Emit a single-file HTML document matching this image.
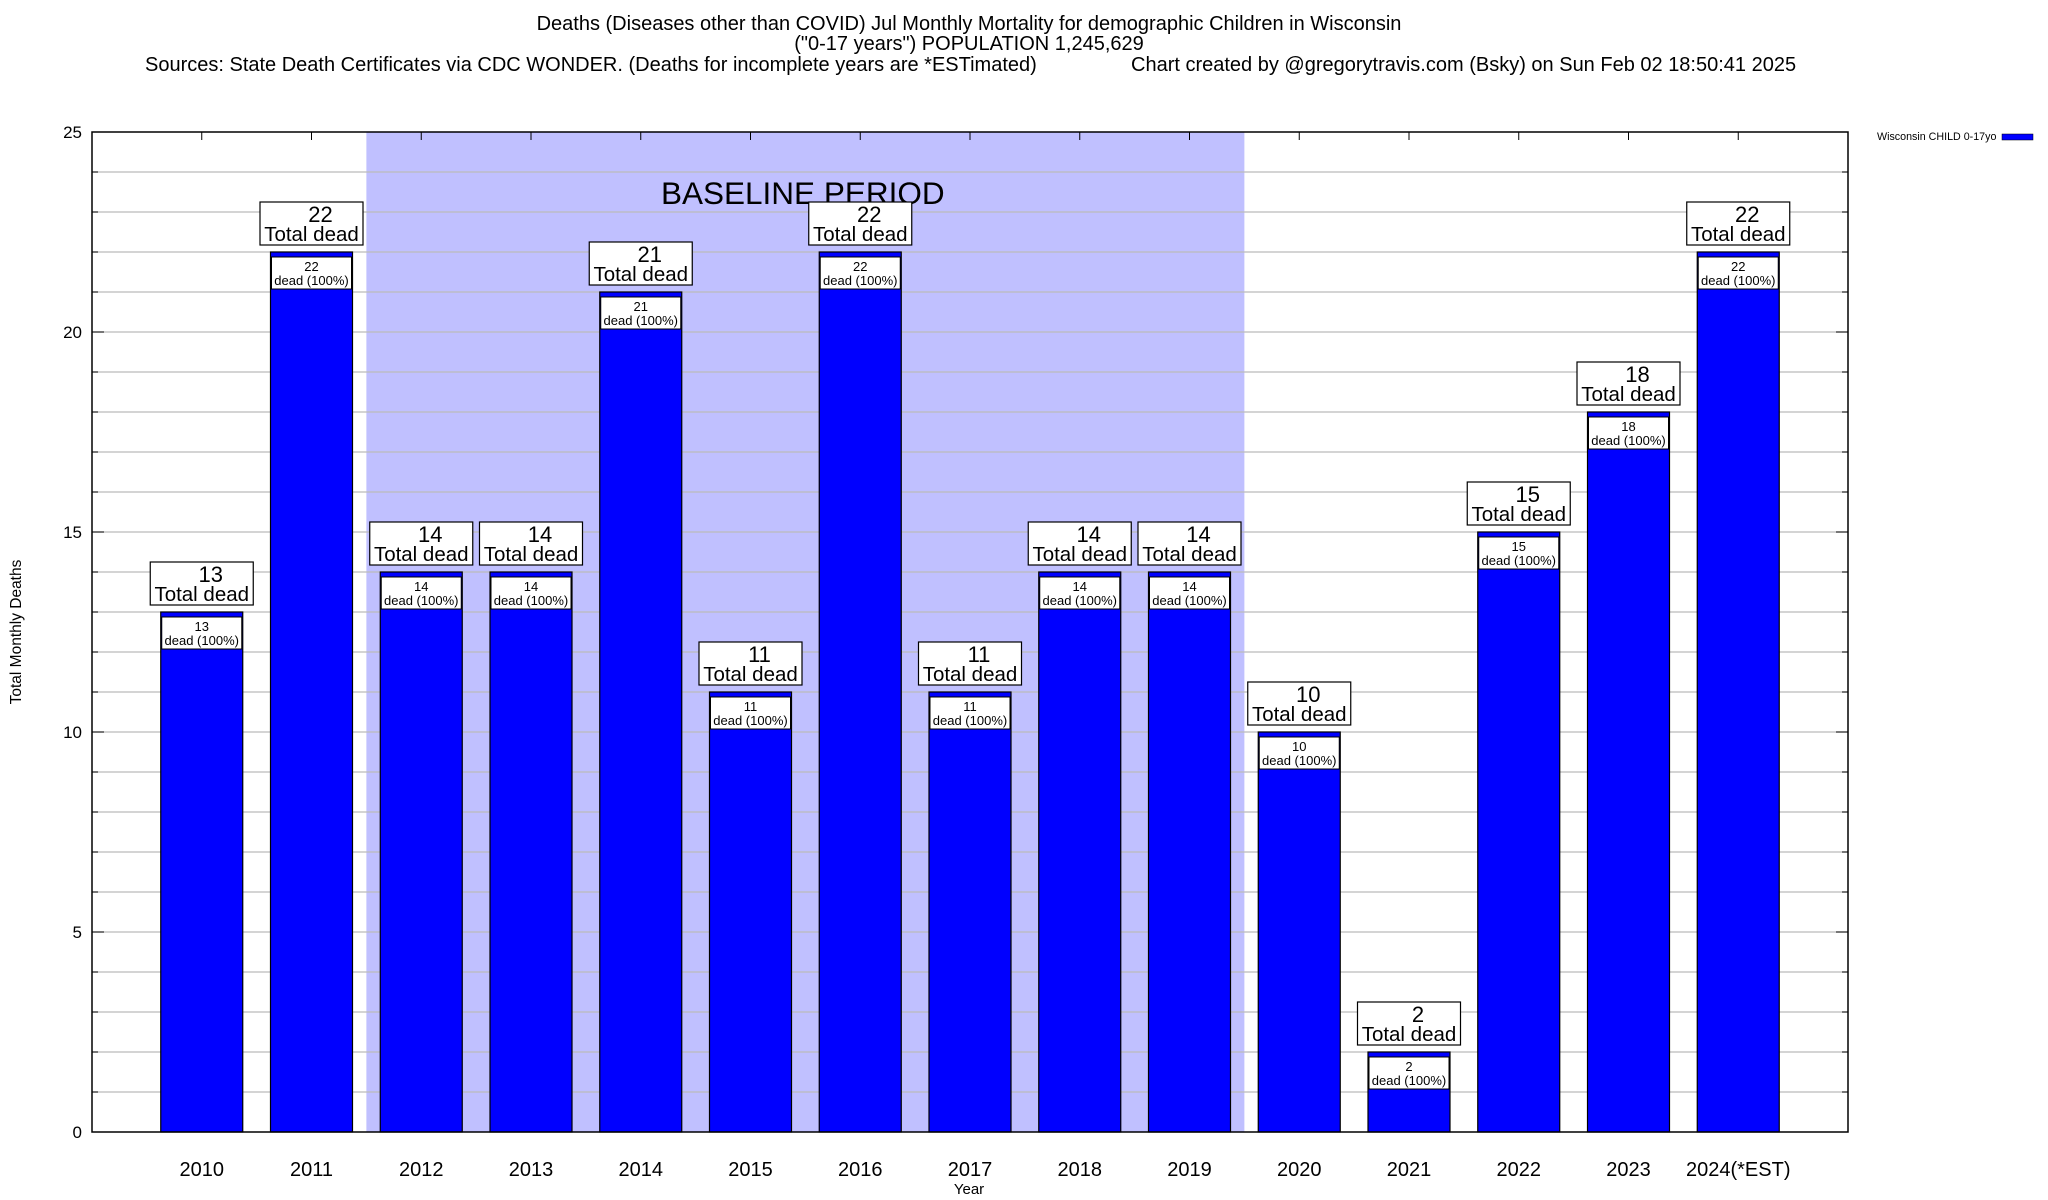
<!DOCTYPE html>
<html><head><meta charset="utf-8">
<style>
html,body{margin:0;padding:0;background:#fff;}
svg{display:block;font-family:"Liberation Sans",sans-serif;}
</style></head>
<body>
<svg id="chart" width="2048" height="1200" xmlns="http://www.w3.org/2000/svg">
<text x="969" y="30" font-size="20" text-anchor="middle">Deaths (Diseases other than COVID) Jul Monthly Mortality for demographic Children in Wisconsin</text>
<text x="969" y="50" font-size="20" text-anchor="middle">("0-17 years") POPULATION 1,245,629</text>
<text x="145" y="71" font-size="20">Sources: State Death Certificates via CDC WONDER. (Deaths for incomplete years are *ESTimated)</text>
<text x="1131" y="71" font-size="20">Chart created by @gregorytravis.com (Bsky) on Sun Feb 02 18:50:41 2025</text>
<g id="plot"></g>
<text x="21" y="632" font-size="15.5" text-anchor="middle" transform="rotate(-90 21 632)">Total Monthly Deaths</text>
<text x="969" y="1194" font-size="15" text-anchor="middle">Year</text>
<g>
<text x="1877" y="140" font-size="10.7">Wisconsin CHILD 0-17yo</text>
<rect x="2002" y="134" width="31" height="6" fill="#0000ff" stroke="#000" stroke-width="0.5"/>
</g>
</svg>
<script>
const categories = ["2010","2011","2012","2013","2014","2015","2016","2017","2018","2019","2020","2021","2022","2023","2024(*EST)"];
const values = [13,22,14,14,21,11,22,11,14,14,10,2,15,18,22];
const yTicks = [0,5,10,15,20,25];
const baselineStart = 2;
const baselineEnd = 9;

const L=92,R=1848,T=132,B=1132,YMAX=25;
const slot=(R-L)/(categories.length+1);
function xs(i){return L+(i+1)*slot;}
function ys(v){return B-(v/YMAX)*(B-T);}
const NS="http://www.w3.org/2000/svg";
const g=document.getElementById('plot');
function el(tag,attrs,txt){const e=document.createElementNS(NS,tag);for(const k in attrs)e.setAttribute(k,attrs[k]);if(txt!==undefined)e.textContent=txt;g.appendChild(e);return e;}

let e;
e=el('rect',{x:xs(baselineStart-0.5),y:T,width:xs(baselineEnd+0.5)-xs(baselineStart-0.5),height:B-T,fill:'#c0c0ff'});


for(let v=1;v<YMAX;v++){
  e=el('line',{x1:L,x2:R,y1:ys(v),y2:ys(v),stroke:'#bbb','stroke-width':1.2});
  
  
  e=el('line',{x1:L,x2:L+(v%5==0?12:6),y1:ys(v),y2:ys(v),stroke:'#000','stroke-width':1});
  
  
  e=el('line',{x1:R,x2:R-(v%5==0?12:6),y1:ys(v),y2:ys(v),stroke:'#000','stroke-width':1});
  
  
}
yTicks.forEach(t=>{
  e=el('text',{x:82,y:ys(t)+6,'font-size':17,'text-anchor':'end'},String(t));
  
  
});
e=el('text',{x:661,y:204,'font-size':31.5},'BASELINE PERIOD');


categories.forEach((c,i)=>{
  const cx=xs(i),v=values[i],top=ys(v),w=82;
  e=el('line',{x1:cx,x2:cx,y1:T,y2:T+8,stroke:'#000','stroke-width':1});
  
  
  e=el('rect',{x:cx-w/2,y:top,width:w,height:B-top,fill:'#0000ff',stroke:'#000','stroke-width':1.2});
  
  
  e=el('rect',{x:cx-w/2+1,y:top+5,width:w-2,height:32,fill:'#fff',stroke:'#000','stroke-width':1});
  
  
  e=el('text',{x:cx,y:top+19,'font-size':13,'text-anchor':'middle'},String(v));
  
  
  e=el('text',{x:cx,y:top+33,'font-size':13,'text-anchor':'middle'},'dead (100%)');
  
  
  e=el('rect',{x:cx-51.5,y:top-50,width:103,height:43,fill:'#fff',stroke:'#000','stroke-width':1.2});
  
  
  e=el('text',{x:cx+9,y:top-30,'font-size':22,'text-anchor':'middle'},String(v));
  
  
  e=el('text',{x:cx,y:top-11,'font-size':20.5,'text-anchor':'middle'},'Total dead');
  
  
  e=el('text',{x:cx,y:1176,'font-size':20,'text-anchor':'middle'},c);
  
  
});
e=el('rect',{x:L,y:T,width:R-L,height:B-T,fill:'none',stroke:'#000','stroke-width':1.5});


</script>
</body></html>
